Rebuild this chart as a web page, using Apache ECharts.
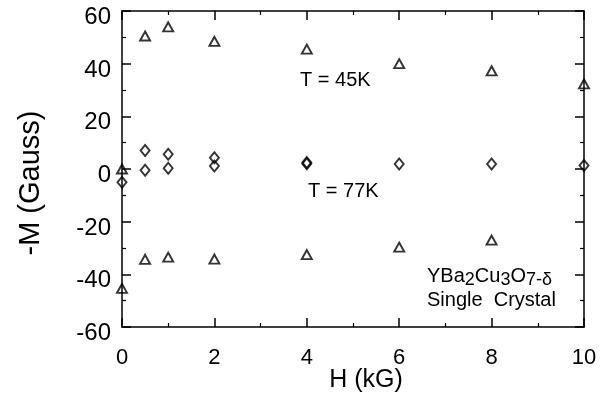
<!DOCTYPE html>
<html>
<head>
<meta charset="utf-8">
<script src="https://cdn.jsdelivr.net/npm/echarts@6/dist/echarts.min.js"></script>
<style>
  html, body { margin: 0; padding: 0; background: #fff; }
  #chart_box { width: 613px; height: 396px; }
</style>
</head>
<body>
<div id="chart_box"></div>
<script>
// H (kG) and -M (Gauss)
const hUpper45 = [0, 0.5, 1, 2, 4, 6, 8, 10];
const mUpper45 = [0, 50.5, 54, 48.5, 45.5, 40, 37.3, 32.3];
const hLower45 = [0, 0.5, 1, 2, 4, 6, 8];
const mLower45 = [-45.3, -34.3, -33.5, -34.2, -32.5, -29.7, -27];
const h77 = [0, 0.5, 0.5, 1, 1, 2, 2, 4, 4, 6, 8, 10];
const m77 = [-5, 7, -0.5, 5.6, 0.3, 4.3, 1.1, 2.5, 2, 1.9, 1.9, 1.3];
const xTicks = [0, 2, 4, 6, 8, 10];
const yTicks = [-60, -40, -20, 0, 20, 40, 60];

const pairs = (xs, ys) => xs.map((x, i) => [x, ys[i]]);
const font = "'Liberation Sans', Arial, sans-serif";
const black = "#000";

const baseAxis = {
  type: "value",
  axisLine: { show: true, onZero: false, lineStyle: { color: black, width: 1.5 } },
  axisTick: { show: true, inside: true, length: 9, lineStyle: { color: black, width: 1.5 } },
  minorTick: { show: true, splitNumber: 2, length: 4, lineStyle: { color: black, width: 1.2 } },
  splitLine: { show: false },
  minorSplitLine: { show: false },
};

const xAxisMain = Object.assign({}, baseAxis, {
  min: xTicks[0], max: xTicks[xTicks.length - 1], interval: 2,
  position: "bottom",
  axisLabel: { fontFamily: font, fontSize: 22, color: black, margin: 20 },
});
const xAxisTop = Object.assign({}, baseAxis, {
  min: xTicks[0], max: xTicks[xTicks.length - 1], interval: 2,
  position: "top", axisLabel: { show: false },
});
const yAxisMain = Object.assign({}, baseAxis, {
  min: yTicks[0], max: yTicks[yTicks.length - 1], interval: 20,
  position: "left",
  axisLabel: {
    margin: 11,
    formatter: (v) => "{a|" + v + "}",
    rich: { a: { fontFamily: font, fontSize: 24, color: black, lineHeight: 24, padding: [13, 0, 0, 0] } },
  },
});
const yAxisRight = Object.assign({}, baseAxis, {
  min: yTicks[0], max: yTicks[yTicks.length - 1], interval: 20,
  position: "right", axisLabel: { show: false },
});

const markerStyle = { color: "rgba(255,255,255,0)", borderColor: black, borderWidth: 1.9 };

const option = {
  animation: false,
  backgroundColor: "#fff",
  grid: { left: 122, right: 29, top: 11, bottom: 69, containLabel: false, outerBoundsMode: "none" },
  xAxis: [xAxisMain, xAxisTop],
  yAxis: [yAxisMain, yAxisRight],
  series: [
    {
      name: "T = 45K", type: "scatter", symbol: "triangle", symbolSize: [10, 9],
      itemStyle: markerStyle, clip: false, data: pairs(hUpper45, mUpper45),
    },
    {
      name: "T = 45K (-)", type: "scatter", symbol: "triangle", symbolSize: [10, 9],
      itemStyle: markerStyle, clip: false, data: pairs(hLower45, mLower45),
    },
    {
      name: "T = 77K", type: "scatter", symbol: "diamond", symbolSize: [9, 11],
      itemStyle: markerStyle, clip: false, data: pairs(h77, m77),
    },
  ],
  graphic: [
    {
      type: "text", x: 366, y: 380,
      style: { text: "H (kG)", font: "25px " + font, fill: black, align: "center", verticalAlign: "middle" },
    },
    {
      type: "text", x: 31, y: 183, rotation: Math.PI / 2,
      style: { text: "-M (Gauss)", font: "29px " + font, fill: black, align: "center", verticalAlign: "middle" },
    },
    { type: "text", left: 300, top: 70, style: { text: "T = 45K", font: "20px " + font, fill: black } },
    { type: "text", left: 308, top: 181, style: { text: "T = 77K", font: "20px " + font, fill: black } },
    {
      type: "text", left: 427, top: 263,
      style: {
        text: "{n|YBa}{s|2}{n|Cu}{s|3}{n|O}{s|7-δ}",
        fill: black,
        rich: {
          n: { fontFamily: font, fontSize: 20, lineHeight: 24, fill: black },
          s: { fontFamily: font, fontSize: 18, lineHeight: 24, padding: [8, 0, 0, 0], fill: black },
        },
      },
    },
    { type: "text", left: 427, top: 290, style: { text: "Single  Crystal", font: "20px " + font, fill: black } },
  ],
};

const myChart = echarts.init(document.getElementById("chart_box"), null, { renderer: "canvas" });
myChart.setOption(option);
</script>
</body>
</html>
